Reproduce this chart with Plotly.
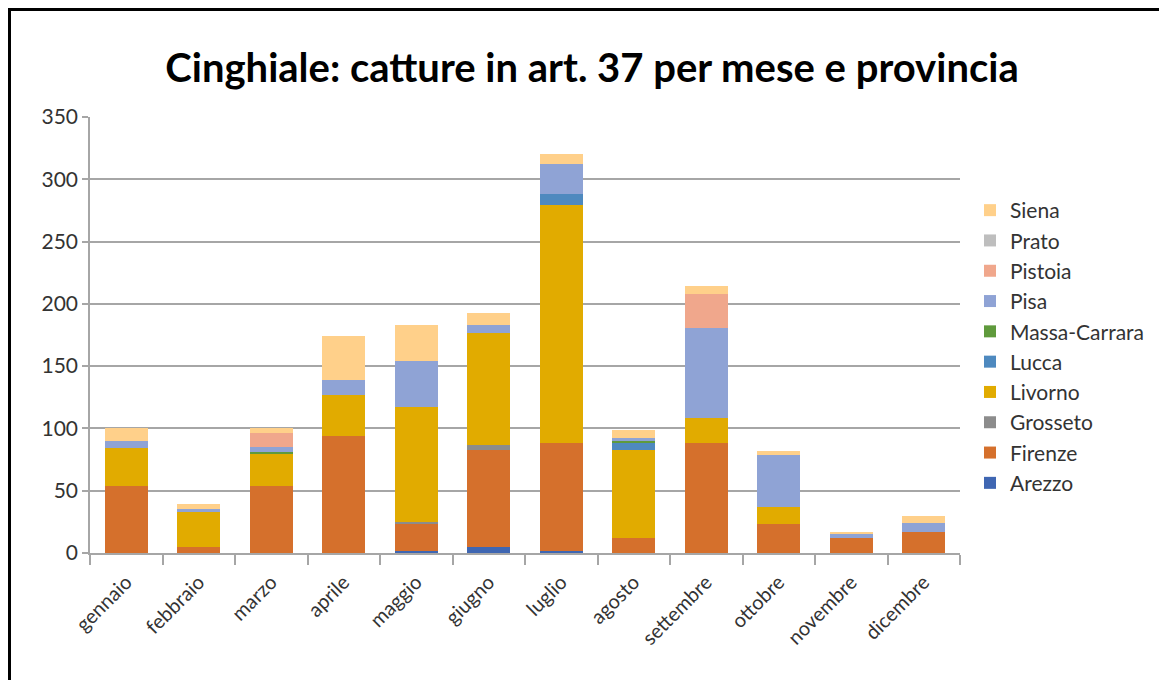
import plotly.graph_objects as go

months = ["gennaio", "febbraio", "marzo", "aprile", "maggio", "giugno",
          "luglio", "agosto", "settembre", "ottobre", "novembre", "dicembre"]

arezzo        = [0, 0, 0, 0, 2, 5, 2, 0, 0, 0, 0, 0]
firenze       = [54, 5, 54, 94, 21, 78, 86, 12, 88, 23, 12, 17]
grosseto      = [0, 0, 0, 0, 2, 4, 0, 0, 0, 0, 0, 0]
livorno       = [30, 28, 26, 33, 92, 90, 191, 71, 20, 14, 0, 0]
lucca         = [0, 0, 0, 0, 0, 0, 9, 6, 0, 0, 0, 0]
massa_carrara = [0, 0, 1, 0, 0, 0, 0, 1, 0, 0, 0, 0]
pisa          = [6, 2, 4, 12, 37, 6, 24, 2, 73, 42, 4, 7]
pistoia       = [0, 0, 11, 0, 0, 0, 0, 0, 27, 0, 0, 0]
prato         = [0, 0, 0, 0, 0, 0, 0, 0, 0, 0, 0, 0]
siena         = [10, 4, 4, 35, 29, 10, 8, 7, 6, 3, 1, 6]

series = [
    ("Arezzo", arezzo, "#3F66B2"),
    ("Firenze", firenze, "#D5702C"),
    ("Grosseto", grosseto, "#8C8C8C"),
    ("Livorno", livorno, "#E1AB00"),
    ("Lucca", lucca, "#4E89BF"),
    ("Massa-Carrara", massa_carrara, "#5F9A3C"),
    ("Pisa", pisa, "#8FA3D5"),
    ("Pistoia", pistoia, "#F0A78C"),
    ("Prato", prato, "#BEBEBE"),
    ("Siena", siena, "#FFD08A"),
]

fig = go.Figure()
n = len(series)
for i, (name, vals, col) in enumerate(series):
    fig.add_trace(go.Bar(name=name, x=months, y=vals,
                         marker=dict(color=col, line=dict(width=0)),
                         legendgroup=name, legendrank=n - i))

OFF = 8  # page body margin
W, H = 1167, 680
ml, mt = 90 - OFF, 117 - OFF
pw, ph = 870, 436
mr = W - ml - pw
mb = H - mt - ph

def px_x(p):
    return (p - OFF - ml) / pw

def px_y(p):
    return (mt + ph - (p - OFF)) / ph

fig.update_layout(
    width=W, height=H,
    barmode="stack", bargap=0.41,
    margin=dict(l=ml, r=mr, t=mt, b=mb, autoexpand=False),
    paper_bgcolor="white", plot_bgcolor="white",
    font=dict(family="Lato", color="#333333"),
    title=dict(text="Cinghiale: catture in art. 37 per mese e provincia",
               font=dict(family="Lato", size=40, weight="bold", color="black"),
               x=(592 - OFF) / W, xanchor="center", xref="container",
               y=1 - (68 - OFF) / H, yanchor="middle", yref="container"),
    legend=dict(traceorder="grouped", tracegroupgap=0,
                font=dict(family="Lato", size=21, color="#333333"),
                x=px_x(970), xanchor="left", y=px_y(190), yanchor="top",
                bgcolor="rgba(0,0,0,0)"),
    xaxis=dict(type="category", tickson="boundaries", ticks="outside", ticklen=10,
               tickcolor="#a6a6a6", tickwidth=1.5,
               showline=True, linecolor="#a6a6a6", linewidth=1.5,
               tickangle=-45, ticklabelstandoff=8,
               tickfont=dict(family="Lato", size=20, color="#333333"),
               showgrid=False),
    yaxis=dict(range=[0, 350], dtick=50, ticks="outside", ticklen=6,
               tickcolor="#a6a6a6", tickwidth=1.5,
               showline=True, linecolor="#a6a6a6", linewidth=1.5,
               gridcolor="#a6a6a6", gridwidth=1.5, zeroline=False,
               tickfont=dict(family="Lato", size=21, color="#333333")),
    shapes=[dict(type="rect", xref="paper", yref="paper",
                 x0=px_x(9.5), x1=px_x(W + 30), y0=px_y(H + 30), y1=px_y(9.5),
                 line=dict(color="black", width=3), fillcolor="rgba(0,0,0,0)",
                 layer="below")],
)

fig.write_html("out.html")
